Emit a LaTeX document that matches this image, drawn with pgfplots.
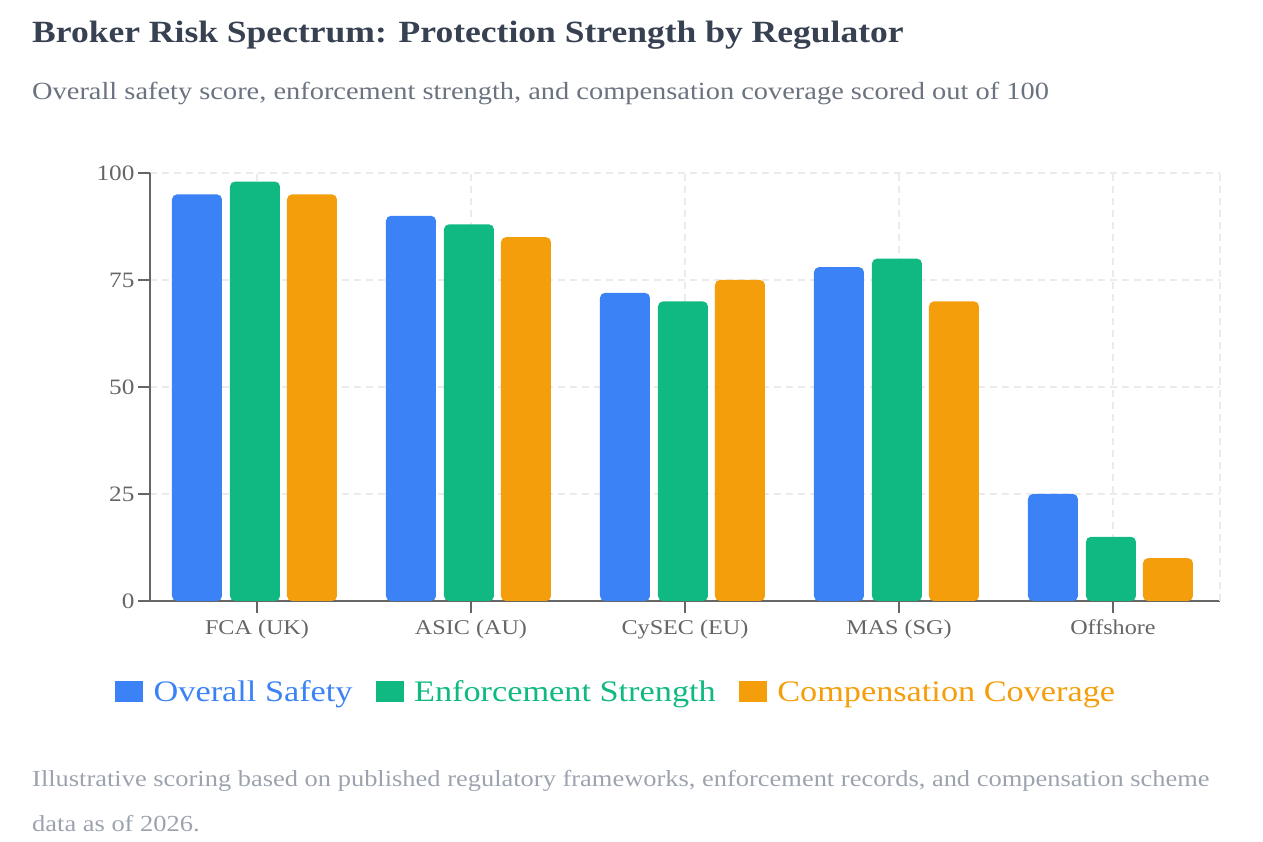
\documentclass[border=0pt]{standalone}
\usepackage{fontspec}
\setmainfont{Liberation Serif}[FakeStretch=1.15]
\usepackage{pgfplots}
\pgfplotsset{compat=1.18}
\definecolor{cblue}{HTML}{3B82F6}
\definecolor{cgreen}{HTML}{10B981}
\definecolor{corange}{HTML}{F59E0B}
\definecolor{ctitle}{HTML}{374151}
\definecolor{csub}{HTML}{6B7280}
\definecolor{cfoot}{HTML}{9CA3AF}
\definecolor{caxis}{HTML}{666666}
\definecolor{cgrid}{HTML}{EBEBEB}
\begin{document}
\begin{tikzpicture}[x=1pt,y=1pt]
\useasboundingbox (0,0) rectangle (1263,842);
\node[anchor=base west, text=ctitle, font=\fontsize{30.9}{36}\selectfont\bfseries, inner sep=0] at (32,799) {Broker Risk Spectrum: Protection Strength by Regulator};
\node[anchor=base west, text=csub, font=\fontsize{24.7}{29}\selectfont, inner sep=0] at (32,742) {Overall safety score, enforcement strength, and compensation coverage scored out of 100};
\node[anchor=base west, text=cfoot, font=\fontsize{23}{27}\selectfont, inner sep=0] at (32,55) {Illustrative scoring based on published regulatory frameworks, enforcement records, and compensation scheme};
\node[anchor=base west, text=cfoot, font=\fontsize{23}{27}\selectfont, inner sep=0] at (32,10) {data as of 2026.};
\begin{axis}[
  at={(150pt,241pt)}, anchor=south west,
  scale only axis, width=1070pt, height=428pt,
  xmin=-0.5, xmax=4.5, ymin=0, ymax=100,
  xtick={0,1,2,3,4},
  xticklabels={FCA (UK),ASIC (AU),CySEC (EU),MAS (SG),Offshore},
  ytick={0,25,50,75,100},
  extra x ticks={4.5}, extra x tick labels={},
  extra x tick style={major tick length=0pt, grid=major},
  grid=major,
  major grid style={cgrid, line width=1.5pt, dash pattern=on 7pt off 5pt},
  axis x line*=bottom, axis y line*=left,
  axis line style={caxis, line width=1.5pt, -},
  tick style={caxis, line width=1.5pt},
  tick align=outside, major tick length=12pt,
  xticklabel style={text=caxis, font=\fontsize{21}{25}\selectfont, yshift=-3pt},
  yticklabel style={text=caxis, font=\fontsize{22}{26}\selectfont},
  /pgf/number format/assume math mode=true,
  ybar, bar width=50pt,
  legend columns=3,
  legend cell align=left,
  legend style={at={(-0.0327,-0.2126)}, anchor=west, draw=none, fill=none,
    inner sep=0pt, font=\fontsize{29.8}{35}\selectfont,
    /tikz/every even column/.append style={column sep=21pt},
    /tikz/every odd column/.append style={column sep=8.5pt}},
  legend image code/.code={\fill[#1,/tikz/.cd,rounded corners=0pt,draw=none] (0pt,-10pt) rectangle (28pt,11pt);},
]
\addplot[fill=cblue, draw=none, bar shift=-60pt, rounded corners=5pt] coordinates {(0,95) (1,90) (2,72) (3,78) (4,25)};
\addlegendentry{\textcolor{cblue}{Overall Safety}}
\addplot[fill=cgreen, draw=none, bar shift=-2pt, rounded corners=5pt] coordinates {(0,98) (1,88) (2,70) (3,80) (4,15)};
\addlegendentry{\textcolor{cgreen}{Enforcement Strength}}
\addplot[fill=corange, draw=none, bar shift=55pt, rounded corners=5pt] coordinates {(0,95) (1,85) (2,75) (3,70) (4,10)};
\addlegendentry{\textcolor{corange}{Compensation Coverage}}
\end{axis}
\end{tikzpicture}
\end{document}
